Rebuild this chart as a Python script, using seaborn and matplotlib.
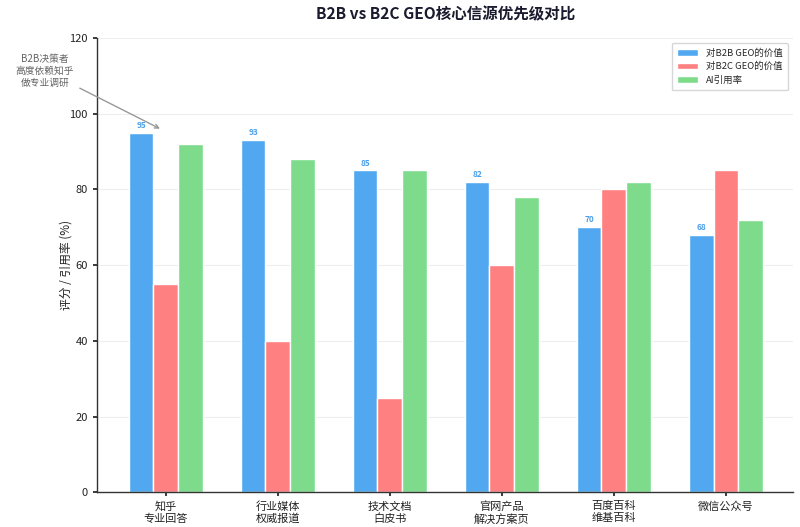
import matplotlib
matplotlib.use("Agg")
import matplotlib.pyplot as plt
import seaborn as sns
import pandas as pd

categories = ["知乎\n专业回答", "行业媒体\n权威报道", "技术文档\n白皮书", "官网产品\n解决方案页", "百度百科\n维基百科", "微信公众号"]
b2b_values = [95, 93, 85, 82, 70, 68]
b2c_values = [55, 40, 25, 60, 80, 85]
ai_values = [92, 88, 85, 78, 82, 72]
series_names = ["对B2B GEO的价值", "对B2C GEO的价值", "AI引用率"]
colors = ["#52A8F0", "#FF8080", "#7DDB8B"]

sns.set_theme(style="white")
plt.rcParams['font.family'] = ['Noto Sans CJK SC', 'DejaVu Sans']
plt.rcParams['axes.unicode_minus'] = False

rows = []
for vals, name in zip([b2b_values, b2c_values, ai_values], series_names):
    for c, v in zip(categories, vals):
        rows.append({"category": c, "series": name, "value": v})
df = pd.DataFrame(rows)

fig = plt.figure(figsize=(8, 5.27), dpi=100)
ax = fig.add_axes([0.121, 0.066, 0.870, 0.862])

sns.barplot(data=df, x="category", y="value", hue="series", palette=colors,
            width=0.66, edgecolor="white", linewidth=1, saturation=1, ax=ax)

b2b_container = ax.containers[0]
ax.bar_label(b2b_container, labels=[str(v) for v in b2b_values], padding=2,
             fontsize=6, fontweight="bold", color="#4A9FEA")

ax.set_ylim(0, 120)
ax.set_xlim(-0.616, 5.598)
ax.set_yticks([0, 20, 40, 60, 80, 100, 120])
ax.yaxis.grid(True, color="#eeeeee", linewidth=0.8)
ax.set_axisbelow(True)
ax.set_xlabel("")
ax.set_ylabel("评分 / 引用率 (%)", fontsize=8.5, color="#222222", labelpad=-2)
ax.tick_params(axis="both", labelsize=8, colors="#222222", length=3, bottom=True, left=True)
for s in ["top", "right"]:
    ax.spines[s].set_visible(False)
for s in ["left", "bottom"]:
    ax.spines[s].set_color("#333333")
    ax.spines[s].set_linewidth(1)

leg = ax.legend(loc="upper right", fontsize=6.8, frameon=True, title=None,
                handlelength=2.2, borderpad=0.6, labelspacing=0.45)
leg.get_frame().set_edgecolor("#cccccc")

ax.annotate("B2B决策者\n高度依赖知乎\n做专业调研", xy=(-0.03, 95.7), xytext=(-1.08, 111.4),
            ha="center", va="center", fontsize=7, color="#666666", linespacing=1.25,
            arrowprops=dict(arrowstyle="->", color="#999999", lw=1),
            annotation_clip=False)

fig.suptitle("B2B vs B2C GEO核心信源优先级对比", fontsize=11.2, fontweight="bold",
             color="#1a1a2e", x=0.557, y=0.988)

fig.savefig("out.png", dpi=100)
